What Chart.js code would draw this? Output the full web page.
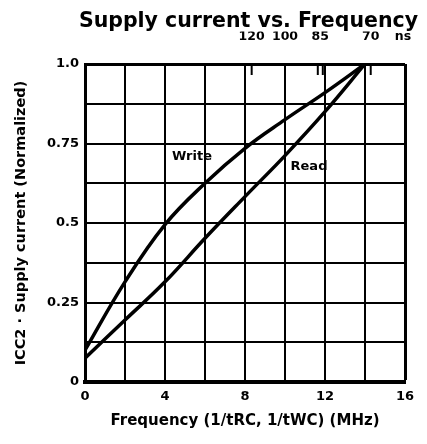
<!DOCTYPE html>
<html><head><meta charset="utf-8">
<script src="https://cdn.jsdelivr.net/npm/chart.js@4.4.0/dist/chart.umd.min.js"></script>
<style>html,body{margin:0;padding:0;background:#fff;} #wrap{width:427px;height:444px;position:relative;}</style>
</head><body><div id="wrap"><canvas id="c"></canvas></div>
<script>
const frequencies = [0, 2, 4, 6, 8, 10, 12, 14];
const writeCurrent = [0.10, 0.315, 0.495, 0.625, 0.735, 0.825, 0.91, 1.0];
const readCurrent = [0.075, 0.195, 0.315, 0.452, 0.583, 0.712, 0.85, 1.0];
const xTickValues = [0, 4, 8, 12, 16];
const xTickLabels = ['0', '4', '8', '12', '16'];
const yTickValues = [0, 0.25, 0.5, 0.75, 1.0];
const yTickLabels = ['0', '0.25', '0.5', '0.75', '1.0'];
const cycleTimesNs = [120, 100, 85, 70];
const cycleTimeLabels = ['120', '100', '85', '70'];
const unitLabel = 'ns';
const unitLabelAt = 15.9;

const FONT = '"DejaVu Sans", sans-serif';
const toPoints = (ys) => frequencies.map((x, i) => ({x: x, y: ys[i]}));
const findIdx = (arr, v) => arr.findIndex(a => Math.abs(a - v) < 1e-6);

const curveLabels = {
  id: 'curveLabels',
  afterDatasetsDraw(chart) {
    const {ctx, scales: {x, y}} = chart;
    ctx.save();
    ctx.fillStyle = '#000';
    ctx.font = 'bold 13px ' + FONT;
    ctx.textAlign = 'center';
    ctx.textBaseline = 'middle';
    chart.data.datasets.forEach(ds => {
      if (!ds.labelAt) return;
      ctx.fillText(ds.label, x.getPixelForValue(ds.labelAt[0]), y.getPixelForValue(ds.labelAt[1]));
    });
    ctx.restore();
  }
};

const topMarks = {
  id: 'topMarks',
  beforeDatasetsDraw(chart) {
    const {ctx, chartArea} = chart;
    const s = chart.scales.x2;
    ctx.save();
    ctx.strokeStyle = '#000';
    ctx.lineWidth = 2;
    cycleTimesNs.forEach(ns => {
      const px = s.getPixelForValue(1000 / ns);
      const offs = ns === 85 ? [-2.5, 2.5] : [0];
      offs.forEach(o => {
        ctx.beginPath();
        ctx.moveTo(px + o, chartArea.top);
        ctx.lineTo(px + o, chartArea.top + 11);
        ctx.stroke();
      });
    });
    ctx.restore();
  }
};

new Chart(document.getElementById('c'), {
  type: 'line',
  data: {
    datasets: [
      {label: 'Write', data: toPoints(writeCurrent), labelAt: [5.35, 0.71],
       borderColor: '#000', borderWidth: 3.5, pointRadius: 0, tension: 0.4, fill: false},
      {label: 'Read', data: toPoints(readCurrent), labelAt: [11.2, 0.676],
       borderColor: '#000', borderWidth: 3.5, pointRadius: 0, tension: 0.4, fill: false}
    ]
  },
  options: {
    responsive: true,
    maintainAspectRatio: false,
    animation: false,
    devicePixelRatio: 1,
    layout: {padding: {left: 0, right: 9, top: 0, bottom: 0}},
    plugins: {
      legend: {display: false},
      tooltip: {enabled: false},
      title: {
        display: true,
        text: 'Supply current vs. Frequency',
        align: 'end',
        color: '#000',
        font: {family: FONT, size: 20.5, weight: 'bold', lineHeight: 1},
        padding: {top: 11, bottom: 0}
      }
    },
    scales: {
      x: {
        type: 'linear', position: 'bottom', min: 0, max: 16,
        afterFit: (s) => { s.height = 62; s.paddingLeft = 0; s.paddingRight = 0; },
        grid: {color: '#000', lineWidth: (c) => (c.tick && c.tick.value === 16) ? 3 : 2, drawTicks: false},
        border: {color: '#000', width: 4},
        ticks: {
          stepSize: 2, padding: 7, color: '#000', maxRotation: 0, autoSkip: false,
          font: {family: FONT, size: 13, weight: 'bold'},
          callback: (v) => { const i = findIdx(xTickValues, v); return i >= 0 ? xTickLabels[i] : ''; }
        },
        title: {
          display: true,
          text: 'Frequency (1/tRC, 1/tWC) (MHz)',
          color: '#000',
          font: {family: FONT, size: 15, weight: 'bold'},
          padding: {top: 0, bottom: 14}
        }
      },
      x2: {
        type: 'linear', position: 'top', min: 0, max: 16,
        afterFit: (s) => { s.height = 32.5; s.paddingLeft = 0; s.paddingRight = 0; },
        afterBuildTicks: (s) => {
          s.ticks = cycleTimesNs.map(ns => ({value: 1000 / ns})).concat([{value: unitLabelAt}]);
        },
        grid: {display: false, drawTicks: false},
        border: {display: false},
        ticks: {
          padding: 20, color: '#000', maxRotation: 0, autoSkip: false,
          font: {family: FONT, size: 12.5, weight: 'bold'},
          callback: (v, i) => i < cycleTimeLabels.length ? cycleTimeLabels[i] : unitLabel
        }
      },
      y: {
        type: 'linear', position: 'left', min: 0, max: 1,
        afterFit: (s) => { s.width = 85; s.paddingTop = 0; s.paddingBottom = 0; },
        grid: {color: '#000', lineWidth: (c) => (c.tick && c.tick.value === 1) ? 3 : 2, drawTicks: false},
        border: {color: '#000', width: 3},
        ticks: {
          stepSize: 0.125, padding: 6, color: '#000',
          font: {family: FONT, size: 13, weight: 'bold'},
          callback: (v) => { const i = findIdx(yTickValues, v); return i >= 0 ? yTickLabels[i] : ''; }
        },
        title: {
          display: true,
          text: 'ICC2 · Supply current (Normalized)',
          color: '#000',
          font: {family: FONT, size: 14.5, weight: 'bold'},
          padding: {top: 13, bottom: 0}
        }
      },
      yr: {
        type: 'linear', position: 'right', display: true,
        afterFit: (s) => { s.width = 13; s.paddingTop = 0; s.paddingBottom = 0; },
        grid: {display: false, drawTicks: false},
        border: {display: false},
        ticks: {display: false}
      }
    }
  },
  plugins: [curveLabels, topMarks]
});
</script>
</body></html>
